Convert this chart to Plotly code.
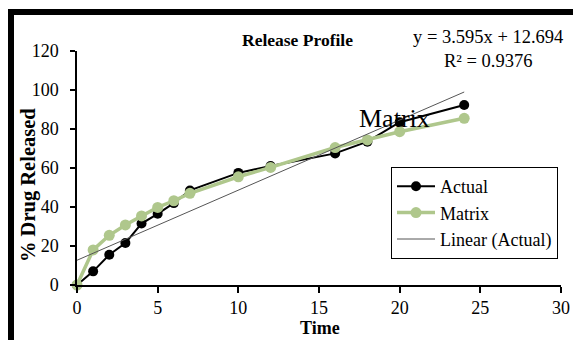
import plotly.graph_objects as go

time_actual = [0, 1, 2, 3, 4, 5, 6, 7, 10, 12, 16, 18, 20, 24]
actual = [0, 7, 15.5, 21.5, 31.5, 36.5, 42, 48.5, 57.5, 61, 67.5, 73.5, 83.5, 92.3]
time_matrix = [0, 1, 2, 3, 4, 5, 6, 7, 10, 12, 16, 18, 20, 24]
matrix = [0, 18, 25.5, 30.8, 35.4, 39.8, 43.2, 47, 55.5, 60.3, 70.5, 74.4, 78.6, 85.5]
slope, intercept = 3.595, 12.694
trend_x = [0, 24]
trend_y = [slope * t + intercept for t in trend_x]

FONT = "Liberation Serif, Times New Roman, serif"
GREEN = "#AFC78C"

W, H = 573, 340
L, R, T, B = 77, 12, 51, 55
pw, ph = W - L - R, H - T - B

def px(x):
    return (x - L) / pw

def py(y):
    return (H - B - y) / ph

fig = go.Figure()
fig.add_trace(go.Scatter(x=time_actual, y=actual, name="Actual", mode="lines+markers",
                         line=dict(color="black", width=2), marker=dict(color="black", size=10),
                         cliponaxis=False, legendgroup="a"))
fig.add_trace(go.Scatter(x=time_matrix, y=matrix, name="Matrix", mode="lines+markers",
                         line=dict(color=GREEN, width=3.5), marker=dict(color=GREEN, size=11),
                         cliponaxis=False, legendgroup="b"))
fig.add_trace(go.Scatter(x=trend_x, y=trend_y, name="Linear (Actual)", mode="lines",
                         line=dict(color="#555555", width=1), legendgroup="c"))

fig.update_layout(
    width=W, height=H,
    margin=dict(l=L, r=R, t=T, b=B, pad=0),
    paper_bgcolor="white", plot_bgcolor="white",
    font=dict(family=FONT, size=18, color="black"),
    showlegend=True,
    legend=dict(x=px(391), y=py(167), xanchor="left", yanchor="top",
                bordercolor="black", borderwidth=1, bgcolor="white",
                font=dict(family=FONT, size=18), tracegroupgap=0,
                itemwidth=38, traceorder="grouped"),
    xaxis=dict(range=[0, 30], tickvals=[0, 5, 10, 15, 20, 25, 30], showgrid=False, zeroline=False,
               showline=True, linecolor="black", linewidth=1.5, ticks="outside", ticklen=6,
               tickcolor="black", tickwidth=1.5, tickfont=dict(size=18), fixedrange=True,
               automargin=False),
    yaxis=dict(range=[0, 120], tickvals=[0, 20, 40, 60, 80, 100, 120], showgrid=False, zeroline=False,
               showline=True, linecolor="black", linewidth=1.5, ticks="outside", ticklen=5,
               tickcolor="black", tickwidth=1.5, tickfont=dict(size=18), ticklabelstandoff=8,
               fixedrange=True, automargin=False),
)

ann = [
    dict(text="<b>Release Profile</b>", x=px(297), y=py(40), font=dict(size=17.5)),
    dict(text="y = 3.595x + 12.694<br>R² = 0.9376", x=px(488), y=py(49), font=dict(size=18.5)),
    dict(text="Matrix", x=px(394), y=py(119), font=dict(size=26)),
    dict(text="<b>Time</b>", x=px(320), y=py(328), font=dict(size=18)),
    dict(text="<b>% Drug Released</b>", x=px(28), y=py(185), font=dict(size=20.5), textangle=-90),
]
for a in ann:
    fig.add_annotation(xref="paper", yref="paper", showarrow=False, xanchor="center",
                       yanchor="middle", **a)

# frame border (top and left)
fig.add_shape(type="line", xref="paper", yref="paper", x0=px(11), x1=px(W + 5), y0=py(12), y1=py(12),
              line=dict(color="black", width=6))
fig.add_shape(type="line", xref="paper", yref="paper", x0=px(11), x1=px(11), y0=py(9), y1=py(H + 5),
              line=dict(color="black", width=6))

fig.write_html("out.html")
